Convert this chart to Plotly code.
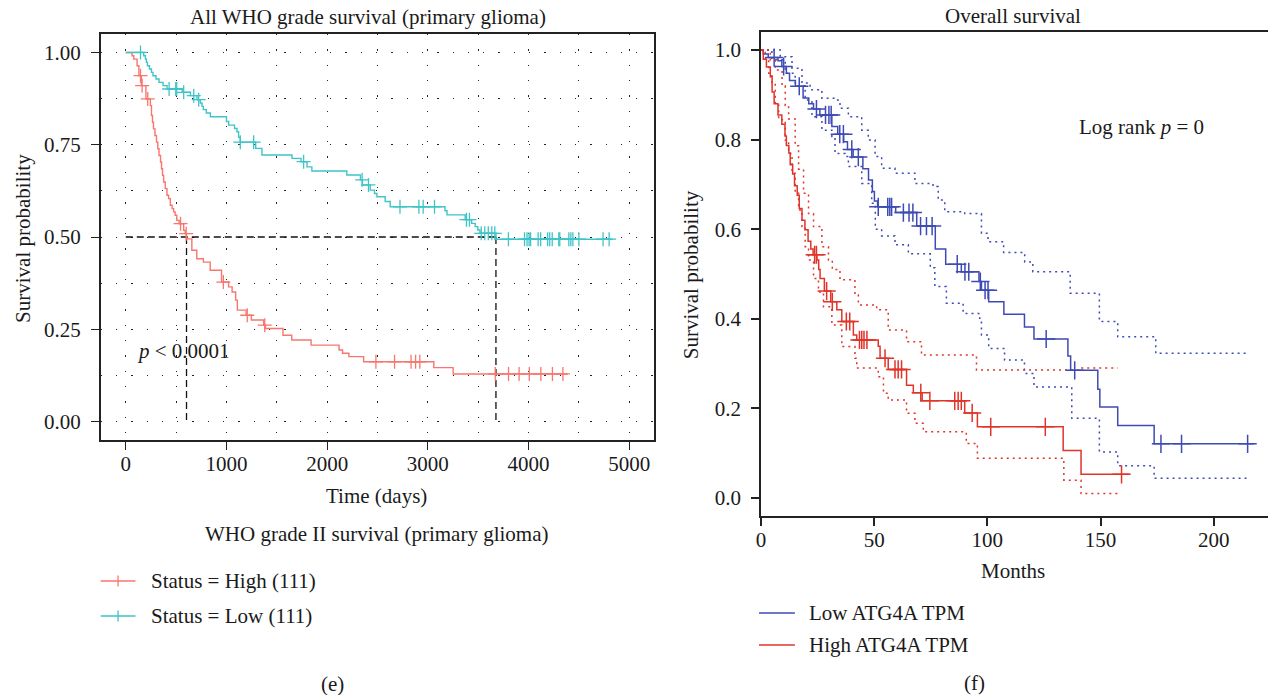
import numpy as np
import plotly.graph_objects as go

FONT = "Liberation Serif"
W, H = 1268, 695

# ---------------- Panel (e): All WHO grade survival, time in days ----------------
high_t = [0, 62, 79, 112, 130, 155, 200, 244, 255, 265, 275, 290, 305, 318, 330, 345, 355, 365,
          376, 392, 409, 425, 442, 460, 475, 490, 507, 530, 575, 590, 603, 656, 705, 771, 838,
          951, 1021, 1056, 1091, 1108, 1195, 1247, 1369, 1387, 1561, 1648, 1840, 2118, 2153,
          2216, 2362, 3059, 3251]
high_s = [1.0, 0.991, 0.982, 0.964, 0.937, 0.910, 0.874, 0.856, 0.829, 0.811, 0.793, 0.775,
          0.757, 0.739, 0.721, 0.703, 0.685, 0.667, 0.649, 0.631, 0.613, 0.604, 0.586, 0.577,
          0.568, 0.559, 0.545, 0.536, 0.518, 0.509, 0.495, 0.464, 0.441, 0.432, 0.410, 0.378,
          0.365, 0.351, 0.329, 0.302, 0.288, 0.275, 0.261, 0.252, 0.234, 0.221, 0.207, 0.194,
          0.185, 0.176, 0.162, 0.146, 0.129]
high_cens = [146, 162, 218, 544, 600, 969, 1206, 1380, 2484, 2669, 2833, 2878, 2920, 3669,
             3801, 3906, 4007, 4122, 4237, 4341]
high_end = 4390

low_t = [0, 178, 195, 205, 215, 235, 255, 270, 300, 330, 370, 410, 560, 642, 707, 740, 757,
         770, 800, 840, 1000, 1022, 1080, 1104, 1120, 1137, 1290, 1352, 1650, 1740, 1800, 1848,
         2195, 2330, 2350, 2427, 2470, 2494, 2576, 2626, 3170, 3190, 3371, 3434, 3470, 3496,
         3517, 3676]
low_s = [1.0, 0.991, 0.982, 0.973, 0.964, 0.955, 0.946, 0.937, 0.928, 0.919, 0.910, 0.901,
         0.892, 0.883, 0.872, 0.863, 0.854, 0.845, 0.836, 0.826, 0.813, 0.803, 0.794, 0.785,
         0.770, 0.757, 0.740, 0.722, 0.713, 0.704, 0.690, 0.679, 0.668, 0.655, 0.641, 0.627,
         0.618, 0.609, 0.596, 0.582, 0.571, 0.560, 0.547, 0.537, 0.528, 0.519, 0.510, 0.494]
low_cens = [146, 430, 496, 506, 575, 675, 724, 1137, 1270, 1766, 2347, 2410, 2723, 2911, 2953,
            3066, 3383, 3413, 3530, 3565, 3600, 3635, 3665, 3800, 3960, 3985, 4005, 4020, 4095,
            4120, 4190, 4210, 4235, 4300, 4310, 4400, 4420, 4440, 4500, 4740, 4800]
low_end = 4835

e_xticks = [0, 1000, 2000, 3000, 4000, 5000]
e_yticks = [0.0, 0.25, 0.5, 0.75, 1.0]
e_yticklabels = ["0.00", "0.25", "0.50", "0.75", "1.00"]

# ---------------- Panel (f): Overall survival, time in months ----------------
f_low_t = [0, 1.0, 3.2, 7.5, 9.2, 11.2, 12.6, 15.2, 18.6, 21.1, 23.2, 26.0, 31.3, 33.9, 36.5,
           38.2, 40.7, 45.0, 47.5, 49.2, 50.1, 51.5, 59.5, 68.8, 77.0, 81.6, 88.5, 96.3, 97.4,
           100.6, 107.3, 116.4, 120.6, 135.6, 136.8, 148.8, 149.7, 157.6, 173.7]
f_low_s = [1.0, 0.991, 0.983, 0.976, 0.963, 0.948, 0.932, 0.919, 0.893, 0.880, 0.868, 0.855,
           0.829, 0.812, 0.795, 0.778, 0.761, 0.735, 0.710, 0.684, 0.663, 0.650, 0.637, 0.607,
           0.556, 0.522, 0.505, 0.483, 0.464, 0.438, 0.410, 0.382, 0.355, 0.317, 0.285, 0.243,
           0.203, 0.162, 0.121]
f_low_cens = [5.8, 10.0, 16.9, 24.5, 28.5, 30.0, 31.0, 34.8, 36.4, 40.1, 43.0, 51.8, 56.0, 56.9,
              57.7, 62.9, 65.4, 67.1, 70.5, 73.1, 75.6, 86.7, 90.1, 91.8, 96.9, 99.0, 100.3,
              126.0, 138.6, 176.7, 185.8, 215.0]
f_low_end = 217.9

f_high_t = [0, 1.0, 2.4, 4.1, 4.9, 5.8, 7.5, 9.2, 10.6, 11.2, 12.3, 12.9, 14.0, 14.8, 16.0,
            16.9, 18.1, 19.4, 20.8, 22.0, 23.0, 24.7, 25.5, 26.1, 28.0, 30.8, 33.5, 35.7, 40.8,
            42.3, 51.8, 52.6, 56.2, 64.3, 67.3, 71.2, 90.0, 95.6, 133.5, 141.4]
f_high_s = [1.0, 0.979, 0.962, 0.940, 0.906, 0.880, 0.855, 0.834, 0.808, 0.787, 0.770, 0.744,
            0.723, 0.697, 0.676, 0.646, 0.620, 0.599, 0.573, 0.556, 0.543, 0.531, 0.510, 0.490,
            0.462, 0.438, 0.420, 0.394, 0.364, 0.353, 0.339, 0.312, 0.287, 0.252, 0.235, 0.217,
            0.190, 0.159, 0.106, 0.053]
f_high_cens = [23.7, 24.5, 29.0, 31.5, 37.7, 39.2, 43.5, 44.5, 45.5, 46.8, 54.8, 59.2, 60.6,
               62.1, 70.6, 74.6, 85.6, 87.1, 88.5, 93.3, 101.5, 125.6, 159.3]
f_high_end = 162.7

f_lowU_t = [0, 1.9, 8.5, 13.7, 18.1, 21.7, 26.9, 32.7, 34.9, 38.6, 44.5, 47.4, 50.4, 53.3,
            59.2, 68.0, 76.0, 78.3, 81.2, 90.0, 97.4, 100.3, 107.2, 116.5, 120.1, 136.6, 149.5,
            157.6, 174.4]
f_lowU_s = [1.0, 1.0, 0.985, 0.959, 0.926, 0.911, 0.892, 0.888, 0.870, 0.851, 0.821, 0.799,
            0.762, 0.736, 0.725, 0.702, 0.695, 0.665, 0.639, 0.635, 0.591, 0.572, 0.548, 0.527,
            0.505, 0.457, 0.394, 0.360, 0.323]
f_lowU_end = 215.0

f_lowL_t = [0, 4.8, 10.7, 15.1, 19.5, 22.5, 26.9, 31.3, 32.7, 37.1, 38.6, 44.5, 48.9, 50.5,
            53.3, 59.2, 65.1, 74.8, 76.8, 81.9, 89.3, 96.6, 97.4, 100.6, 107.6, 116.4, 120.6,
            137.3, 149.5, 157.6, 173.7]
f_lowL_s = [1.0, 0.978, 0.948, 0.920, 0.888, 0.851, 0.821, 0.807, 0.769, 0.762, 0.740, 0.702,
            0.658, 0.600, 0.585, 0.565, 0.545, 0.514, 0.472, 0.435, 0.412, 0.401, 0.364, 0.334,
            0.308, 0.278, 0.248, 0.178, 0.103, 0.072, 0.044]
f_lowL_end = 214.5

f_highU_t = [0, 4.1, 6.3, 9.3, 10.7, 12.2, 15.1, 16.6, 18.8, 21.0, 23.2, 26.9, 29.8, 31.5,
             34.9, 41.5, 43.0, 51.1, 56.2, 64.3, 70.9, 95.2, 141.4]
f_highU_s = [1.0, 0.978, 0.955, 0.920, 0.876, 0.846, 0.786, 0.734, 0.680, 0.635, 0.606, 0.561,
             0.531, 0.510, 0.487, 0.453, 0.431, 0.420, 0.375, 0.349, 0.319, 0.286, 0.290]
f_highU_end = 157.6

f_highL_t = [0, 1.9, 3.4, 4.8, 6.3, 7.8, 10.7, 12.2, 13.7, 15.1, 16.6, 18.1, 19.5, 21.0, 23.2,
             25.4, 27.6, 31.3, 35.7, 41.5, 42.3, 51.8, 54.1, 56.2, 64.3, 68.0, 71.7, 90.7, 95.6,
             133.8, 141.4]
f_highL_s = [1.0, 0.978, 0.948, 0.926, 0.881, 0.844, 0.799, 0.769, 0.725, 0.680, 0.643, 0.606,
             0.561, 0.531, 0.490, 0.460, 0.427, 0.386, 0.338, 0.312, 0.290, 0.271, 0.234, 0.219,
             0.189, 0.167, 0.148, 0.122, 0.089, 0.040, 0.010]
f_highL_end = 157.6

f_xticks = [0, 50, 100, 150, 200]
f_yticks = [0.0, 0.2, 0.4, 0.6, 0.8, 1.0]
f_yticklabels = ["0.0", "0.2", "0.4", "0.6", "0.8", "1.0"]

# colours
C_HIGH_E = "#F8766D"
C_LOW_E = "#3FC4C8"
C_LOW_F = "#3F4BB5"
C_HIGH_F = "#E0342B"


def PX(x):
    """window pixel x -> paper fraction"""
    return x / W


def PY(y):
    """window pixel y -> paper fraction"""
    return 1 - y / H


def step_xy(t, s, end):
    return list(t) + [end], list(s) + [s[-1]]


def surv_at(t, s, times):
    t = np.asarray(t)
    s = np.asarray(s)
    idx = np.searchsorted(t, np.asarray(times), side="right") - 1
    return s[idx]


def median_time(t, s):
    s = np.asarray(s)
    return t[int(np.argmax(s <= 0.5))]


fig = go.Figure()

# ---- panel (e) ----
med_high = median_time(high_t, high_s)
med_low = median_time(low_t, low_s)
fig.add_trace(go.Scatter(x=[0, med_low], y=[0.5, 0.5], mode="lines", xaxis="x", yaxis="y",
                         line=dict(color="#111111", width=1.3, dash="7px,4px"), showlegend=False))
for m in (med_high, med_low):
    fig.add_trace(go.Scatter(x=[m, m], y=[0.5, 0.0], mode="lines", xaxis="x", yaxis="y",
                             line=dict(color="#111111", width=1.3, dash="7px,4px"),
                             showlegend=False))

for t, s, cens, end, col in [(high_t, high_s, high_cens, high_end, C_HIGH_E),
                             (low_t, low_s, low_cens, low_end, C_LOW_E)]:
    x, y = step_xy(t, s, end)
    fig.add_trace(go.Scatter(x=x, y=y, mode="lines", line=dict(color=col, width=1.4, shape="hv"),
                             xaxis="x", yaxis="y", showlegend=False))
    fig.add_trace(go.Scatter(x=cens, y=surv_at(t, s, cens), mode="markers", xaxis="x", yaxis="y",
                             marker=dict(symbol="cross-thin", size=10,
                                         line=dict(color=col, width=1.3)),
                             showlegend=False))

# ---- panel (f) ----
for t, s, end, col in [(f_lowU_t, f_lowU_s, f_lowU_end, C_LOW_F),
                       (f_lowL_t, f_lowL_s, f_lowL_end, C_LOW_F),
                       (f_highU_t, f_highU_s, f_highU_end, C_HIGH_F),
                       (f_highL_t, f_highL_s, f_highL_end, C_HIGH_F)]:
    x, y = step_xy(t, s, end)
    fig.add_trace(go.Scatter(x=x, y=y, mode="lines", xaxis="x2", yaxis="y2",
                             line=dict(color=col, width=1.5, shape="hv", dash="2px,4px"),
                             showlegend=False))

for t, s, cens, end, col in [(f_low_t, f_low_s, f_low_cens, f_low_end, C_LOW_F),
                             (f_high_t, f_high_s, f_high_cens, f_high_end, C_HIGH_F)]:
    x, y = step_xy(t, s, end)
    fig.add_trace(go.Scatter(x=x, y=y, mode="lines", line=dict(color=col, width=1.5, shape="hv"),
                             xaxis="x2", yaxis="y2", showlegend=False))
    fig.add_trace(go.Scatter(x=cens, y=surv_at(t, s, cens), mode="markers", xaxis="x2",
                             yaxis="y2",
                             marker=dict(symbol="cross-thin", size=13,
                                         line=dict(color=col, width=1.5)),
                             showlegend=False))

GRID = dict(showgrid=True, gridcolor="#222222", gridwidth=1.3, griddash="1.3px,14px")
FS = 21
tickfont = dict(family=FONT, size=FS, color="#1a1a1a")

fig.update_layout(
    width=W, height=H, autosize=False,
    margin=dict(l=0, r=0, t=0, b=0),
    paper_bgcolor="white", plot_bgcolor="white",
    font=dict(family=FONT, size=FS, color="#1a1a1a"),
    showlegend=False,
    xaxis=dict(domain=[PX(96), PX(652)], range=[-250, 5250], tickvals=e_xticks,
               ticks="outside", ticklen=8, tickwidth=1.3, tickcolor="#222222",
               showline=True, mirror=True, linecolor="#222222", linewidth=1.5,
               zeroline=False, tickfont=tickfont, ticklabelstandoff=-4,
               minor=dict(dtick=500, tick0=0, ticks="", **GRID), anchor="y", **GRID),
    yaxis=dict(domain=[PY(440), PY(34)], range=[-0.05, 1.05], tickvals=e_yticks,
               ticktext=e_yticklabels, ticks="outside", ticklen=8, tickwidth=1.3,
               tickcolor="#222222", showline=True, mirror=True, linecolor="#222222",
               linewidth=1.5, zeroline=False, tickfont=tickfont, ticklabelstandoff=6,
               minor=dict(dtick=0.125, tick0=0, ticks="", **GRID), anchor="x", **GRID),
    xaxis2=dict(domain=[PX(759), 1.0], range=[0, 224], tickvals=f_xticks, ticks="outside",
                ticklen=8, tickwidth=1.5, tickcolor="#222222", showline=True, mirror=True,
                linecolor="#222222", linewidth=1.5, zeroline=False, showgrid=False,
                tickfont=tickfont, ticklabelstandoff=-4, anchor="y2"),
    yaxis2=dict(domain=[PY(516), PY(32)], range=[-0.04, 1.04], tickvals=f_yticks,
                ticktext=f_yticklabels, ticks="outside", ticklen=8, tickwidth=1.5,
                tickcolor="#222222", showline=True, mirror=False, linecolor="#222222",
                linewidth=1.5, zeroline=False, showgrid=False, tickfont=tickfont,
                ticklabelstandoff=6, anchor="x2"),
)


def ann(text, x, y, xanchor="center", yanchor="middle", size=FS, angle=0, xref="paper",
        yref="paper"):
    if xref == "paper":
        x = PX(x)
    if yref == "paper":
        y = PY(y)
    fig.add_annotation(text=text, x=x, y=y, xref=xref, yref=yref, xanchor=xanchor,
                       yanchor=yanchor, showarrow=False, textangle=angle,
                       font=dict(family=FONT, size=size, color="#1a1a1a"))


# panel (e) texts
ann("All WHO grade survival (primary glioma)", 364, 17)
ann("Time (days)", 373, 496)
ann("Survival probability", 18, 238, angle=-90)
ann("<i>p</i> < 0.0001", 95, 0.19, xanchor="left", xref="x", yref="y")
ann("WHO grade II survival (primary glioma)", 373, 534)
ann("(e)", 329, 684)

# panel (f) texts
ann("Overall survival", 1012, 16)
ann("Months", 1012, 571)
ann("Survival probability", 689, 275, angle=-90)
ann("Log rank <i>p</i> = 0", 168.3, 0.827, xref="x2", yref="y2")
ann("(f)", 973, 683)

# legends (drawn as key glyphs + labels)
legend_e = [("Status = High (111)", C_HIGH_E, 581), ("Status = Low (111)", C_LOW_E, 616)]
for label, col, yy in legend_e:
    fig.add_shape(type="line", xref="paper", yref="paper", x0=PX(96), x1=PX(131),
                  y0=PY(yy), y1=PY(yy), line=dict(color=col, width=1.4))
    fig.add_shape(type="line", xref="paper", yref="paper", x0=PX(113.5), x1=PX(113.5),
                  y0=PY(yy - 5.5), y1=PY(yy + 5.5), line=dict(color=col, width=1.3))
    ann(label, 145, yy, xanchor="left")

legend_f = [("Low ATG4A TPM", C_LOW_F, 613), ("High ATG4A TPM", C_HIGH_F, 645)]
for label, col, yy in legend_f:
    fig.add_shape(type="line", xref="paper", yref="paper", x0=PX(757), x1=PX(793),
                  y0=PY(yy), y1=PY(yy), line=dict(color=col, width=1.5))
    ann(label, 805, yy, xanchor="left")

# let the figure fill the window exactly (no default page margin, no mode bar)
fig.write_html("out.html",
               config={"displayModeBar": False},
               post_script="document.body.style.margin='0px';"
                           "document.body.style.overflow='hidden';")
